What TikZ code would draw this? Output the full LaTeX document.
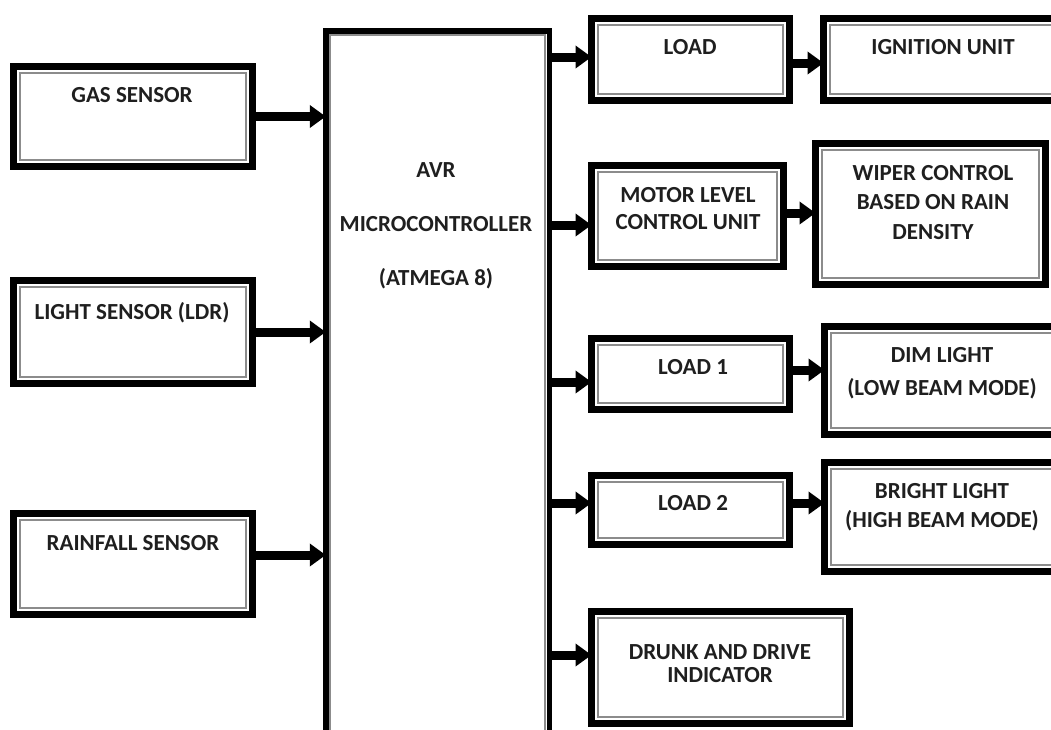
\documentclass[tikz,border=0pt]{standalone}
\usepackage{fontspec}
\setmainfont{Carlito}
\usetikzlibrary{arrows.meta}
\newcommand\mkbox[5]{%
  \pgfmathsetmacro\bw{#4-#2-7}\pgfmathsetmacro\bh{#5-#3-7}%
  \node[box, minimum width=\bw pt, minimum height=\bh pt] (#1) at ({(#2+#4)/2},{(#3+#5)/2}) {};
  \draw[inbox] ([shift={(6.5,6.5)}]#1.north west) rectangle ([shift={(-6.5,-6.5)}]#1.south east);}
\begin{document}
\begin{tikzpicture}[x=1pt,y=-1pt,
  box/.style={draw=black, line width=7pt, outer sep=0pt, inner sep=0pt, fill=white},
  inbox/.style={draw=black!45, line width=2pt},
  arr/.style={line width=9pt, -{Triangle[length=16pt,width=22pt]}},
  lbl/.style={font=\fontsize{23}{#1}\selectfont\bfseries, align=center, inner sep=0pt, text=black!88},
  lbl/.default=26]
\useasboundingbox (0,0) rectangle (1051,729);
\clip (0,0) rectangle (1051,729);
\fill[white] (0,0) rectangle (1051,729);
% boxes
\mkbox{gas}{10}{63}{256}{170}
\mkbox{light}{10}{277}{256}{387}
\mkbox{rain}{10}{510}{256}{618}
\node[box, line width=5.5pt, minimum width=223.5pt, minimum height=711.5pt] (mc) at (437.5,386.5) {};
\draw[inbox] ([shift={(4.5,4.5)}]mc.north west) rectangle ([shift={(-4.5,-4.5)}]mc.south east);
\mkbox{load}{588}{15}{793}{104}
\mkbox{ign}{820}{15}{1062}{104}
\mkbox{motor}{588}{162}{787}{270}
\mkbox{wiper}{812}{140}{1049}{288}
\mkbox{loadA}{588}{335}{793}{413}
\mkbox{dim}{821}{323}{1062}{438}
\mkbox{loadB}{588}{472}{793}{548}
\mkbox{bright}{821}{459}{1062}{575}
\mkbox{drunk}{588}{608}{853}{727}
% labels
\node[lbl] (tgas) at (132,95) {GAS SENSOR};
\node[lbl] (tlight) at (132,313) {LIGHT SENSOR (LDR)};
\node[lbl] (train) at (133,543) {RAINFALL SENSOR};
\node[lbl=54] (tmc) at (436,226) {AVR\\MICROCONTROLLER\\(ATMEGA 8)};
\node[lbl] (tload) at (690,47) {LOAD};
\node[lbl] (tign) at (943,47) {IGNITION UNIT};
\node[lbl=27] (tmotor) at (688,208.5) {MOTOR LEVEL\\CONTROL UNIT};
\node[lbl=29.5] (twiper) at (933,202.5) {WIPER CONTROL\\BASED ON RAIN\\DENSITY};
\node[lbl] (tloadA) at (693,367) {LOAD 1};
\node[lbl=33] (tdim) at (942,373.5) {DIM LIGHT\\(LOW BEAM MODE)};
\node[lbl] (tloadB) at (693,503) {LOAD 2};
\node[lbl=29] (tbright) at (942,507.5) {BRIGHT LIGHT\\(HIGH BEAM MODE)};
\node[lbl=23.5] (tdrunk) at (720,663.5) {DRUNK AND DRIVE\\INDICATOR};
% arrows into MC
\coordinate (cg) at (gas.east);
\coordinate (cl) at (light.east);
\coordinate (cr) at ([yshift=9pt]rain.east);
\draw[arr] (cg) -- (cg -| mc.west);
\draw[arr] (cl) -- (cl -| mc.west);
\draw[arr] (cr) -- (cr -| mc.west);
% arrows out of MC
\coordinate (c1) at ([yshift=2.5pt]load.west);
\coordinate (c2) at ([yshift=-9pt]motor.west);
\coordinate (c3) at ([yshift=-8pt]loadA.west);
\coordinate (c4) at ([yshift=7pt]loadB.west);
\coordinate (c5) at ([yshift=12.5pt]drunk.west);
\foreach \c in {c1,c2,c3,c4,c5} \draw[arr] (\c -| mc.east) -- (\c);
% second column
\coordinate (d1) at ([yshift=-3.5pt]load.east);
\coordinate (d2) at ([yshift=3pt]motor.east);
\coordinate (d3) at ([yshift=4pt]loadA.east);
\coordinate (d4) at ([yshift=7pt]loadB.east);
\draw[arr] (d1) -- (d1 -| ign.west);
\draw[arr] (d2) -- (d2 -| wiper.west);
\draw[arr] (d3) -- (d3 -| dim.west);
\draw[arr] (d4) -- (d4 -| bright.west);
\end{tikzpicture}
\end{document}
